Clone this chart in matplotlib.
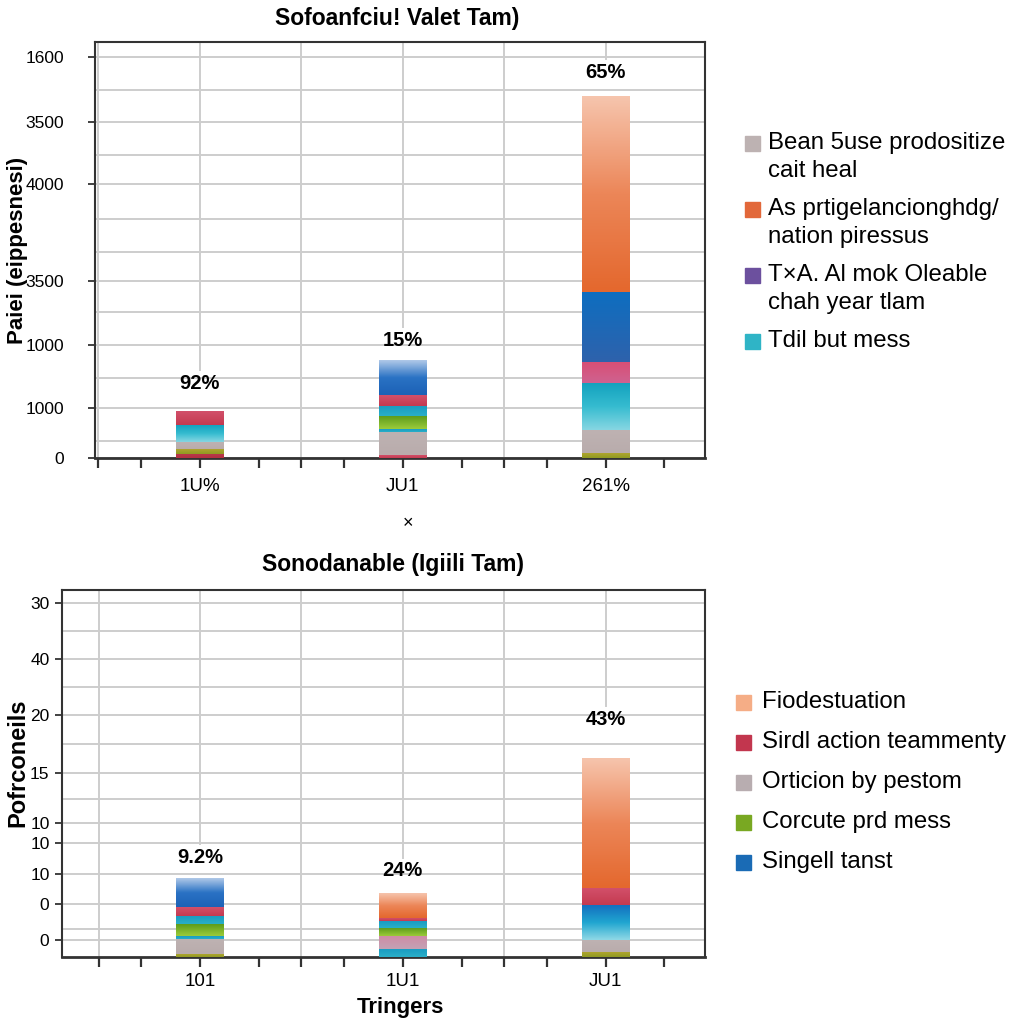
import numpy as np
import matplotlib
matplotlib.use("Agg")
import matplotlib.pyplot as plt
from matplotlib.colors import LinearSegmentedColormap
from matplotlib.patches import Rectangle

plt.rcParams['font.family'] = ['Liberation Sans', 'DejaVu Sans']

# ---- data: upper chart ----
top_title = "Sofoanfciu! Valet Tam)"
top_ylabel = "Paiei (eippesnesi)"
top_xlabel = "\u00d7"
top_categories = ["1U%", "JU1", "261%"]
top_pct = ["92%", "15%", "65%"]
top_yticks = [0, 150, 339, 531, 822, 1008, 1203]
top_yticklabels = ["0", "1000", "1000", "3500", "4000", "3500", "1600"]
top_yminor = [51, 240, 438, 618, 717, 909, 1104]
top_ymax = 1248
top_seg_values = [
    [12, 15, 21, 51, 42],
    [9, 69, 9, 39, 30, 33, 105],
    [15, 69, 141, 63, 210, 588],
]
top_seg_colors = [
    ["darkred", "olive", "grey", "cyan", "red"],
    ["red", "grey", "teal", "green", "teal", "red", "blue_fade"],
    ["olive", "grey", "cyan", "pink", "blue", "orange_fade"],
]
top_legend = ["Bean 5use prodositize\ncait heal",
              "As prtigelancionghdg/\nnation piressus",
              "T\u00d7A. Al mok Oleable\nchah year tlam",
              "Tdil but mess"]
top_legend_colors = ["#BDB2B2", "#E2683A", "#6C509E", "#2FB4C6"]

# ---- data: lower chart ----
bot_title = "Sonodanable (Igiili Tam)"
bot_ylabel = "Pofrconeils"
bot_xlabel = "Tringers"
bot_categories = ["101", "1U1", "JU1"]
bot_pct = ["9.2%", "24%", "43%"]
bot_yticks = [1.7, 5.3, 8.3, 11.4, 13.4, 18.4, 24.2, 29.8, 35.4]
bot_yticklabels = ["0", "0", "10", "10", "10", "15", "20", "40", "30"]
bot_yminor = [2.8, 15.8, 21.3, 27.0, 32.6]
bot_ymax = 36.7
bot_seg_values = [
    [0.3, 1.5, 0.3, 1.2, 0.8, 0.9, 2.9],
    [0.8, 1.3, 0.8, 0.7, 0.3, 2.5],
    [0.5, 1.2, 3.5, 1.7, 13.0],
]
bot_seg_colors = [
    ["olive", "grey", "teal", "green", "teal", "red", "blue_fade"],
    ["teal", "mauve", "green", "teal", "red", "orange_fade"],
    ["olive", "grey", "blue_cyan", "red", "orange_fade"],
]
bot_legend = ["Fiodestuation", "Sirdl action teammenty", "Orticion by pestom",
              "Corcute prd mess", "Singell tanst"]
bot_legend_colors = ["#F5AD86", "#C2364E", "#B8ADB0", "#79A822", "#1A6BB5"]

# bottom colour -> top colour of each segment
palette = {
    "darkred": ["#B3303F", "#B8384A"],
    "olive": ["#8F9A22", "#AFA52E"],
    "grey": ["#B9ACAC", "#BEB2B2"],
    "cyan": ["#86D6E2", "#36BCD0", "#14A2BE"],
    "red": ["#C43A50", "#D2506A"],
    "teal": ["#2AAFC8", "#1A9CC2"],
    "green": ["#9CCB3A", "#5E9C1C"],
    "blue_fade": ["#1C62B6", "#2A72C4", "#AFC8E8"],
    "pink": ["#CF6290", "#D84F76"],
    "blue": ["#2E62AC", "#0E6EC0"],
    "orange_fade": ["#E4682E", "#EC8658", "#F6C4AC"],
    "mauve": ["#C4A2B4", "#CF8CA6"],
    "blue_cyan": ["#8FD8E6", "#20A6D0", "#1470C0"],
}

bar_w = 0.236
grid_c = "#CDCDCD"
spine_c = "#333333"

fig = plt.figure(figsize=(10.24, 10.24), dpi=100)
W = H = 1024.0


def px_axes(l, t, r, b):
    return fig.add_axes([l / W, 1 - b / H, (r - l) / W, (b - t) / H])


def draw_segment(ax, x, bottom, height, key):
    cols = palette[key]
    rect = ax.bar(x, height, bar_w, bottom=bottom, color=cols[0], linewidth=0, zorder=3)[0]
    cmap = LinearSegmentedColormap.from_list(key, cols)
    grad = np.linspace(0, 1, 64).reshape(-1, 1)
    im = ax.imshow(grad, cmap=cmap, origin='lower', aspect='auto', interpolation='bicubic',
                   extent=[x - bar_w / 2, x + bar_w / 2, bottom, bottom + height], zorder=3.1)
    im.set_clip_path(rect)


def draw_chart(ax, cats, seg_vals, seg_cols, pct, yticks, ylabels, yminor, ymax, xmin, ypad, xpad, pads):
    x = np.arange(len(cats))
    labels = []
    for i in range(len(cats)):
        bottom = 0
        for v, c in zip(seg_vals[i], seg_cols[i]):
            draw_segment(ax, x[i], bottom, v, c)
            bottom += v
        t = ax.annotate(pct[i], (x[i], bottom), xytext=(0, pads[i]), textcoords='offset points',
                        ha='center', va='bottom', fontsize=14.5, fontweight='bold', zorder=5)
        labels.append((x[i], t))
    ax.set_xlim(xmin, 2.49)
    ax.set_ylim(0, ymax)
    ax.set_yticks(yticks)
    ax.set_yticklabels(ylabels, fontsize=12.5)
    ax.set_yticks(yminor, minor=True)
    ax.tick_params(axis='y', which='major', length=5, width=1.3, color=spine_c, pad=ypad)
    ax.tick_params(axis='y', which='minor', length=0)
    ax.grid(axis='y', which='both', color=grid_c, lw=1.4, zorder=0)
    xt = [-0.5, -0.29, 0, 0.29, 0.5, 0.71, 1, 1.29, 1.5, 1.71, 2, 2.29]
    ax.set_xticks(xt)
    ax.set_xticklabels([cats[int(v)] if v in (0, 1, 2) else "" for v in xt], fontsize=13.5)
    ax.tick_params(axis='x', length=7, width=1.6, color=spine_c, pad=xpad, direction='out')
    for gx in [-0.5, 0.5, 1.5]:
        ax.axvline(gx, color=grid_c, lw=1.4, zorder=0)
    for s in ax.spines.values():
        s.set_color(spine_c)
        s.set_linewidth(1.5)
    ax.spines['bottom'].set_linewidth(2)
    return labels


ax1 = px_axes(95, 42, 705, 458)
lab1 = draw_chart(ax1, top_categories, top_seg_values, top_seg_colors, top_pct, top_yticks,
                  top_yticklabels, top_yminor, top_ymax, -0.517, 17, 7.5, [13, 7, 10])
ax2 = px_axes(62, 590, 705, 957)
lab2 = draw_chart(ax2, bot_categories, bot_seg_values, bot_seg_colors, bot_pct, bot_yticks,
                  bot_yticklabels, bot_yminor, bot_ymax, -0.68, 4, 4.5, [8, 9, 21])

# vertical grid lines at the categories run from the top down to the labels
fig.canvas.draw()
rend = fig.canvas.get_renderer()
for ax, labs in [(ax1, lab1), (ax2, lab2)]:
    for xv, t in labs:
        bb = t.get_window_extent(rend)
        ytop = ax.transData.inverted().transform((0, bb.y1 + 4))[1]
        if ytop < ax.get_ylim()[1]:
            ax.plot([xv, xv], [ytop, ax.get_ylim()[1]], color=grid_c, lw=1.4, zorder=0)

# titles and axis labels
fig.text(397 / W, 1 - 18 / H, top_title, ha='center', va='center', fontsize=16.5, fontweight='bold')
fig.text(393 / W, 1 - 565 / H, bot_title, ha='center', va='center', fontsize=16.5, fontweight='bold')
fig.text(18 / W, 1 - 250 / H, top_ylabel, rotation=90, ha='center', va='center', fontsize=16, fontweight='bold')
fig.text(18 / W, 1 - 763 / H, bot_ylabel, rotation=90, ha='center', va='center', fontsize=17, fontweight='bold')
fig.text(408 / W, 1 - 524 / H, top_xlabel, ha='center', va='center', fontsize=13)
fig.text(400 / W, 1 - 1007 / H, bot_xlabel, ha='center', va='center', fontsize=16, fontweight='bold')


def draw_legend(labels, colors, x_sq, x_txt, y_first, line_h, gap):
    y = y_first
    for lab, c in zip(labels, colors):
        lines = lab.split("\n")
        fig.patches.append(Rectangle(((x_sq) / W, 1 - (y + 7.5) / H), 15 / W, 15 / H,
                                     transform=fig.transFigure, color=c, figure=fig))
        for k, ln in enumerate(lines):
            fig.text(x_txt / W, 1 - (y + k * line_h) / H, ln, ha='left', va='center', fontsize=17.3)
        y += len(lines) * line_h + gap


draw_legend(top_legend, top_legend_colors, 745, 768, 143, 28, 10)
draw_legend(bot_legend, bot_legend_colors, 736, 762, 702, 40, 0)

fig.savefig("out.png", dpi=100, facecolor='white')
